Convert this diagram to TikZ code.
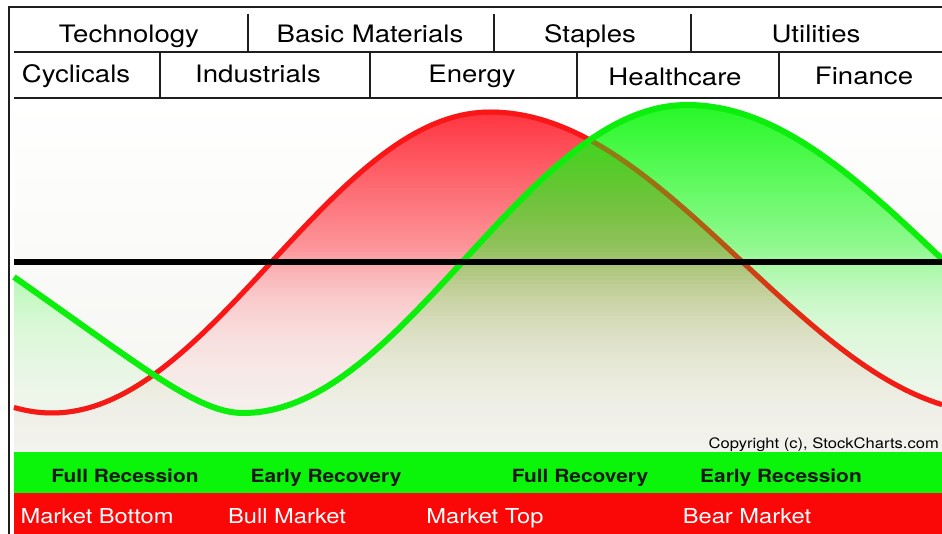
\documentclass[tikz,border=0pt]{standalone}
\usepackage{fontspec}
\setmainfont[FakeStretch=1.15]{TeX Gyre Heros}

\definecolor{linegreen}{RGB}{12,238,12}
\definecolor{linered}{RGB}{250,22,22}
\definecolor{fillgreen}{RGB}{20,248,20}
\definecolor{fillred}{RGB}{255,30,42}
\definecolor{bargreen}{RGB}{10,245,10}
\definecolor{barred}{RGB}{250,8,8}
\definecolor{rulecol}{RGB}{30,30,30}
\definecolor{bgbottom}{RGB}{244,244,240}

% opacity of the area fills as a function of height (y grows downwards)
\newcommand\areaopacity[1]{%
  \pgfmathsetmacro\op{(#1<250) ? (0.92-0.47*(#1-105)/145) : max(0,0.47*exp(-(#1-250)/72)-0.025)}%
  \pgfmathsetmacro\op{min(0.92,\op)}}

\tikzset{
  rulethin/.style={draw=rulecol, line width=1.6pt},
  hdr/.style={anchor=base, inner sep=0pt, font=\fontsize{24}{28}\selectfont},
  phase/.style={anchor=base, inner sep=0pt, font=\fontsize{18.2}{22}\selectfont\bfseries, text=black!90},
  market/.style={anchor=base, inner sep=0pt, font=\fontsize{20.6}{24}\selectfont, text=white},
  redline/.style={draw=linered, line width=5pt, line join=round},
  greenline/.style={draw=linegreen, line width=6pt, line join=round},
}

\begin{document}
\begin{tikzpicture}[x=1pt,y=-1pt]
\useasboundingbox (0,0) rectangle (942,534);
\fill[white] (0,0) rectangle (942,534);

% chart background
\shade[top color=white, bottom color=bgbottom] (14,98) rectangle (942,452);

% red cycle: area (banded fade) and curve
\begin{scope}
  \clip (14,452)
    -- plot[domain=14:490,samples=90] (\x,{413-150.5*(1-cos((\x-52)/438*180))})
    -- plot[domain=490:942,samples=90] (\x,{112+150.5*(1-cos((\x-490)/506*180))})
    -- (942,452) -- cycle;
  \foreach \yy in {100,104,...,448} {
    \areaopacity{\yy+2}
    \fill[fillred, fill opacity=\op] (14,\yy) rectangle (942,\yy+4);
  }
\end{scope}
\draw[redline]
  plot[domain=14:490,samples=90] (\x,{413-150.5*(1-cos((\x-52)/438*180))})
  -- plot[domain=490:942,samples=90] (\x,{112+150.5*(1-cos((\x-490)/506*180))});

% green cycle: area, then the red curve seen through it, then the curve
\begin{scope}
  \clip (14,452) -- (14,277)
    .. controls (144,368) and (198,413) .. (243,413)
    -- plot[domain=243:687,samples=90] (\x,{413-154*(1-cos((\x-243)/444*180))})
    -- plot[domain=687:942,samples=60] (\x,{105+154*(1-cos((\x-687)/510*180))})
    -- (942,452) -- cycle;
  \foreach \yy in {100,104,...,448} {
    \areaopacity{\yy+2}
    \fill[fillgreen, fill opacity=\op] (14,\yy) rectangle (942,\yy+4);
  }
\end{scope}
\draw[redline, draw opacity=0.4]
  plot[domain=14:490,samples=90] (\x,{413-150.5*(1-cos((\x-52)/438*180))})
  -- plot[domain=490:942,samples=90] (\x,{112+150.5*(1-cos((\x-490)/506*180))});
\draw[greenline] (14,277)
  .. controls (144,368) and (198,413) .. (243,413)
  -- plot[domain=243:687,samples=90] (\x,{413-154*(1-cos((\x-243)/444*180))})
  -- plot[domain=687:942,samples=60] (\x,{105+154*(1-cos((\x-687)/510*180))});

% zero line
\draw[black, line width=6pt] (14,262) -- (942,262);

% sector header
\draw[draw=rulecol, line width=2pt] (942,7) -- (9,7) -- (9,534);
\draw[rulethin] (14,52) -- (942,52);
\draw[rulethin] (14,98) -- (942,98);
\draw[rulethin] (248,14) -- (248,52);
\draw[rulethin] (494,14) -- (494,52);
\draw[rulethin] (691,14) -- (691,52);
\draw[rulethin] (160,52) -- (160,98);
\draw[rulethin] (370,52) -- (370,98);
\draw[rulethin] (577,52) -- (577,98);
\draw[rulethin] (779,52) -- (779,98);

\node[hdr] (tech) at (129,43) {Technology};
\node[hdr] (basic) at (370,43) {Basic Materials};
\node[hdr] (staples) at (590,43) {Staples};
\node[hdr] (util) at (816,43) {Utilities};
\node[hdr] (cycl) at (76,83) {Cyclicals};
\node[hdr] (indu) at (258,83) {Industrials};
\node[hdr] (energy) at (472,83) {Energy};
\node[hdr] (health) at (675,86) {Healthcare};
\node[hdr] (fin) at (864,85) {Finance};

% economy and market bars
\fill[bargreen] (14,452) rectangle (942,493);
\fill[barred] (14,493) rectangle (942,534);

\node[anchor=base east, inner sep=0pt, font=\fontsize{14.4}{17}\selectfont] (copy) at (939,448) {Copyright (c), StockCharts.com};

\node[phase] (fullrec) at (125,482) {Full Recession};
\node[phase] (earlyrecov) at (326,482) {Early Recovery};
\node[phase] (fullrecov) at (580,482) {Full Recovery};
\node[phase] (earlyrec) at (781,482) {Early Recession};

\node[market] (mbottom) at (97,523) {Market Bottom};
\node[market] (bull) at (287,523) {Bull Market};
\node[market] (mtop) at (485,523) {Market Top};
\node[market] (bear) at (747,523) {Bear Market};
\end{tikzpicture}
\end{document}
